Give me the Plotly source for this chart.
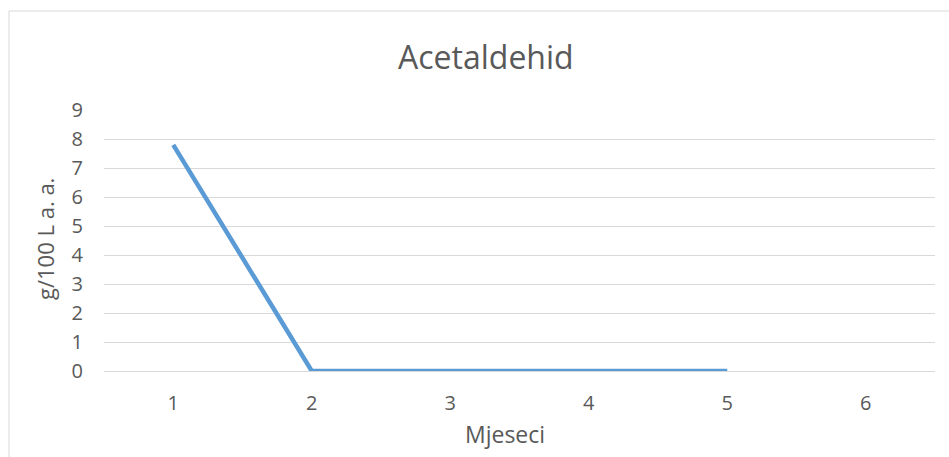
import plotly.graph_objects as go

months = ["1", "2", "3", "4", "5", "6"]
acetaldehid = [7.8, 0, 0, 0, 0, None]
y_ticks = [0, 1, 2, 3, 4, 5, 6, 7, 8, 9]

FONT = "Open Sans, Liberation Sans, sans-serif"
GREY = "#595959"

fig = go.Figure()
fig.add_trace(go.Scatter(
    x=months, y=acetaldehid, mode="lines",
    line=dict(color="#5B9BD5", width=4.5),
    cliponaxis=False, connectgaps=False, showlegend=False,
))

fig.update_layout(
    width=949, height=457,
    margin=dict(l=104, r=14, t=110, b=86),
    paper_bgcolor="white", plot_bgcolor="white",
    font=dict(family=FONT, color=GREY, size=20),
    xaxis=dict(
        type="category", range=[-0.5, 5.5],
        showgrid=False, showline=False, ticks="",
        tickfont=dict(size=20, color=GREY),
        ticklabelstandoff=18,
    ),
    yaxis=dict(
        range=[0, 9], tickvals=y_ticks,
        showgrid=True, gridcolor="#D9D9D9", gridwidth=1,
        zeroline=True, zerolinecolor="#D9D9D9", zerolinewidth=1,
        showline=False, ticks="",
        tickfont=dict(size=20, color=GREY),
        ticklabelstandoff=20,
    ),
    # chart border (right edge runs off the canvas, as in the original)
    shapes=[dict(
        type="rect", xref="paper", yref="paper",
        x0=-95 / 831, x1=1.0 + 40 / 831, y0=-95 / 261, y1=1 + 99 / 261,
        line=dict(color="#D9D9D9", width=1), fillcolor="rgba(0,0,0,0)",
        layer="below",
    )],
    annotations=[
        dict(text="Acetaldehid", xref="paper", yref="paper",
             x=(486 - 104) / 831, y=1 + (110 - 56) / 261,
             xanchor="center", yanchor="middle", showarrow=False,
             font=dict(size=32, color=GREY, family=FONT)),
        dict(text="Mjeseci", xref="paper", yref="paper",
             x=(505 - 104) / 831, y=-(434 - 371) / 261,
             xanchor="center", yanchor="middle", showarrow=False,
             font=dict(size=23, color=GREY, family=FONT)),
        dict(text="g/100 L a. a.", xref="paper", yref="paper",
             x=-(104 - 45) / 831, y=(371 - 239) / 261,
             xanchor="center", yanchor="middle", showarrow=False,
             textangle=-90,
             font=dict(size=22, color=GREY, family=FONT)),
    ],
)

fig.write_html("out.html", config={"displayModeBar": False},
               post_script="document.body.style.margin='0';")
